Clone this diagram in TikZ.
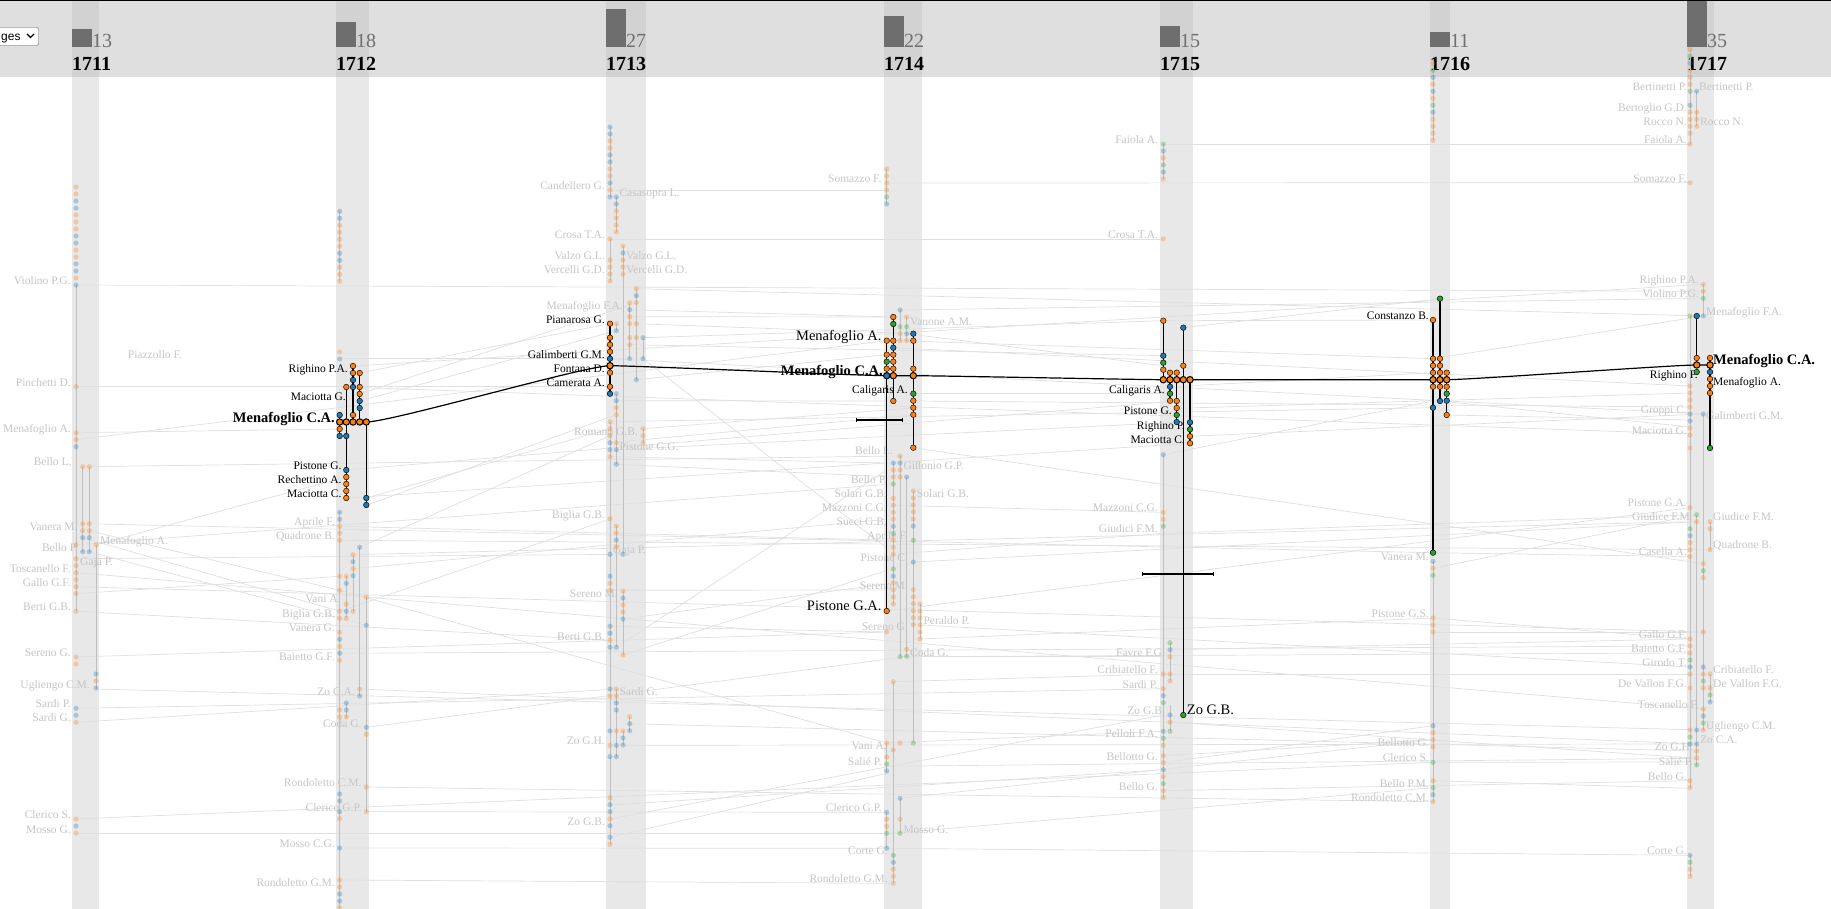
\documentclass[tikz,border=0pt]{standalone}
\usepackage{fontspec}
\setmainfont{Liberation Serif}
\setsansfont{Liberation Sans}
\usepackage{tikz}
\usepackage{xcolor}
\definecolor{dotO}{RGB}{255,127,14}
\definecolor{dotB}{RGB}{31,119,180}
\definecolor{dotG}{RGB}{44,160,44}
\definecolor{hdr}{RGB}{223,223,223}
\definecolor{bandB}{RGB}{232,232,232}
\definecolor{bandH}{RGB}{210,210,210}
\definecolor{barC}{RGB}{110,110,110}
\definecolor{cntC}{RGB}{112,112,112}

\tikzset{
  fdot/.style={fill=dot#1, fill opacity=0.3},
  hdot/.style={fill=dot#1, draw=black, line width=0.45pt},
  mdot/.style={fill=dot#1, draw=black, line width=1pt},
  link/.style={draw=gray!24, line width=0.7pt},
  colline/.style={draw=gray!50, line width=0.9pt},
  hline/.style={draw=black, line width=1.1pt},
  mainline/.style={draw=black, line width=1.2pt},
  errbar/.style={draw=black, line width=2pt},
  flab/.style={text=gray!45, font=\fontsize{11.5}{12}\selectfont, inner sep=0pt},
  hlab/.style={text=black, font=\fontsize{11.5}{12}\selectfont, inner sep=0pt},
  fl/.style={flab, anchor=base east, yshift=-3.8pt},
  fr/.style={flab, anchor=base west, yshift=-3.8pt},
  hl/.style={hlab, anchor=base east, yshift=-3.8pt},
  hr/.style={hlab, anchor=base west, yshift=-3.8pt},
  bigl/.style={hlab, font=\fontsize{14.5}{15}\selectfont, anchor=base east, yshift=-4.8pt},
  bigr/.style={hlab, font=\fontsize{14.5}{15}\selectfont, anchor=base west, yshift=-4.8pt},
  boldl/.style={bigl, font=\bfseries\fontsize{14.5}{15}\selectfont},
  boldr/.style={bigr, font=\bfseries\fontsize{14.5}{15}\selectfont},
  cnt/.style={text=cntC, font=\fontsize{20}{22}\selectfont, inner sep=0pt, anchor=base west},
  yrlab/.style={text=black, font=\bfseries\fontsize{20}{22}\selectfont, inner sep=0pt, anchor=base west},
}

% stacks of dots, 7pt apart
\newcommand{\fdots}[3]{\foreach \c [count=\i from 0] in {#3} {\fill[fdot=\c] (#1,{#2+7*\i}) circle[radius=2.6pt];}}
\newcommand{\hdots}[3]{\foreach \c [count=\i from 0] in {#3} {\filldraw[hdot=\c] (#1,{#2+7*\i}) circle[radius=2.8pt];}}
\newcommand{\mdots}[2]{\foreach \x in {#2} {\filldraw[mdot=#1] (\x,\ypath) circle[radius=3.2pt];}}

\begin{document}
\begin{tikzpicture}[x=1pt, y=-1pt]
  \useasboundingbox (0,0) rectangle (1831,909);
  \fill[white] (0,0) rectangle (1831,909);

  % Year columns and header
  \foreach \xa/\xb in {72/99, 336/369, 606/646, 884/922, 1160/1193, 1430/1450, 1687/1714}
    \fill[bandB] (\xa,77) rectangle (\xb,909);
  \fill[hdr] (0,0) rectangle (1831,77);
  \foreach \xa/\xb in {72/99, 336/369, 606/646, 884/922, 1160/1193, 1430/1450, 1687/1714}
    \fill[bandH] (\xa,0) rectangle (\xb,77);
  \draw[line width=1.5pt] (0,0.75) -- (1831,0.75);

  % Dropdown
  \draw[rounded corners=2pt, draw=gray!70!black, fill=white] (-4,27.5) rectangle (38.5,45.5);
  \node[font=\sffamily\fontsize{12}{13}\selectfont, anchor=base west, inner sep=0pt] (sel) at (1,41) {ges};
  \draw[line width=1.3pt] (27,34) -- (30.5,37.5) -- (34,34);

  % Counts and years
  \foreach \x/\yr/\n in {72/1711/13, 336/1712/18, 606/1713/27, 884/1714/22, 1160/1715/15, 1430/1716/11, 1687/1717/35} {
    \fill[barC] (\x,47.5) rectangle (\x+20,{max(1.5,47.5-1.43*\n)});
    \node[cnt] (c\yr) at (\x+20,47.5) {\n};
    \node[yrlab] (y\yr) at (\x,71) {\yr};
  }

  % Faint links between years
  \foreach \xa/\ya/\xb/\yb in {76/285/1703.3/291.3, 76/386.7/610/386.7, 76/439.7/886.7/340.7,
      76/432.7/339.7/429, 82.7/466.7/900/456, 82.7/523.7/1433/552.7, 76/544.7/893.3/484,
      96/544.7/346.3/477, 76/558.7/623/554.3, 76/572.7/1703.3/709, 76/586.7/1703.3/632,
      76/611.3/610/640.3, 76/657/886.7/632, 96/689/1703.3/730, 76/708.3/1163.3/688.7,
      76/722.3/616.3/689, 76/819/1433/762.3, 76/833.3/900/833.3, 89.3/530.7/339.7/590.3,
      82.7/537.7/339.7/611.3, 89.3/551.7/366.3/625.3, 76/593.7/339.7/576.3,
      353/366/1703.3/284.3, 346.3/387/1690/434, 346.3/470/1176.7/401, 346.3/498/1190/443.3,
      339.7/526.3/893.3/540.3, 339.7/540.3/1710/549.7, 339.7/590.3/886.7/743,
      339.7/611.3/610/519, 339.7/653.3/1690/646, 359.7/689/1696.7/744, 366.3/727.3/906.7/656.7,
      366.3/787/1433/801.7, 366.3/811.7/886.7/812.3, 339.7/848/886.7/848.3, 339.7/880/893.3/883.3,
      339.7/358.7/629.7/358.7, 359.7/373/610/323.7, 359.7/394/636.3/302.7, 359.7/401/616.3/330.7,
      366.3/498/610/428.7, 366.3/505.3/616.3/414.7, 359.7/547.3/610/435.7, 353/554.7/1690/521.7,
      353/568.7/886.7/519.3, 610/190/886.7/190, 886.7/183/1690/182.7, 610/239/1163.3/239,
      1163.3/144/1690/144, 636.3/288.7/1703.3/316, 610/358.7/1703.3/414, 629.7/309.7/893.3/317,
      629.7/316.7/906.7/317, 636.3/323.7/913.3/333.7, 643/337.7/1163.3/320.7,
      629.7/344.7/1163.3/355.7, 636.3/379.7/886.7/354.7, 616.3/400.7/893.3/401,
      610/421.7/1433/407.7, 643/428.7/913.3/408, 610/442.7/913.3/415, 616.3/449.7/1176.7/422.3,
      610/456.7/886.7/463, 616.3/464.3/893.3/477, 610/590.3/893.3/590, 610/745.3/1690/744,
      610/819/1163.3/715, 623/619/893.3/583, 610/626.3/886.7/632, 623/655/913.3/562,
      643/358.7/886.7/548, 616.3/647.3/886.7/470, 610/837.3/886.7/773.3, 629.7/723.7/1696.7/751,
      610/805/1163.3/769.7, 886.7/611/1690/507.7, 893.3/505.3/1163.3/512.3,
      886.7/766.3/1696.7/758.3, 886.7/848.3/1690/855.3, 900/310/1703.3/298.3,
      906.7/333.7/1163.3/365.7, 913.3/393.7/1170/393.7, 893.3/347.7/1690/386,
      900/340.7/1433/358.7, 913.3/401/1690/407, 913.3/447.7/1703.3/563.7,
      893.3/554.3/1163.3/533.3, 920/639/1433/618, 913.3/562/1696.7/521.7,
      900/656.7/1163.3/656.7, 893.3/681.7/1163.3/674, 906.7/656.7/1690/653,
      886.7/743/1163.3/731.3, 900/798.3/1433/739.7, 886.7/833.7/1433/787.7, 920/625/1690/667,
      1163.3/755.7/1433/739.7, 1163.3/790.7/1690/780.7, 1163.3/674/1710/674,
      1163.3/533.3/1696.7/514.7, 1163.3/454.7/1433/401, 1170/386.7/1433/372.7,
      1176.7/408.3/1690/393, 1190/436.3/1703.3/414, 1163.3/320.7/1433/320,
      1183.3/327.7/1440/298.7, 1170/649.7/1690/639, 1170/722/1696.7/758.3,
      1163.3/762.7/1433/725.7, 1433/552.7/1690/556.7, 1433/568.3/1696.7/514.7,
      1433/618/1690/639, 1433/632/1703.3/632, 1433/762.3/1690/762, 1433/780.7/1690/788.3,
      1446.7/415/1690/420, 1440/401/1690/427, 1433/358.7/1703.3/316}
    \draw[link] (\xa,\ya) -- (\xb,\yb);

  % Faint stems inside the columns
  \foreach \x/\ya/\yb in {76/285/611.3, 82.7/466.7/551.7, 89.3/466.7/551.7, 96/544.7/689,
      339.7/211.3/281.3, 339.7/512.3/908, 346.3/576.3/618.3, 346.3/703/718, 353/554.7/611.3,
      359.7/547.3/696, 366.3/597.3/811.7,
      610/127/197, 616.3/197/232, 610/239/281, 623/246/554.3, 629.7/302.7/358.7,
      636.3/288.7/379.7, 643/337.7/358.7, 616.3/323.7/330.7, 616.3/393.7/464.3,
      643/428.7/442.7, 610/421.7/844.3, 616.3/526/647.3, 623/591/655, 616.3/689/757,
      629.7/716.7/731, 623/731/745,
      886.7/169/204, 900/310/340.7, 906.7/317/340.7, 900/456/656.7, 893.3/463/604,
      906.7/477/656.7, 913.3/491/743, 920/604/639, 893.3/681.7/883.3, 886.7/743/773.3,
      900/798.3/833.3, 886.7/812.3/848.3,
      1163.3/144/179, 1163.3/454.7/798.3, 1170/642.7/681.3, 1170/705/731.3,
      1433/63.3/140.3, 1433/561.3/801.7,
      1690/49.3/144, 1696.7/91.3/126.3, 1690/316/788.3, 1703.3/284.3/316, 1703.3/414/730,
      1696.7/514.7/766, 1710/521.7/549.7, 1710/674/702, 1690/855.3/876.3}
    \draw[colline] (\x,\ya) -- (\x,\yb);

  % Faint labels, 1711
  \node[fl] (violino11) at (70.7,280.7) {Violino P.G.};
  \node[fr] (piazzollo11) at (127.7,354.7) {Piazzollo F.};
  \node[fl] (pinchetti11) at (71,382.7) {Pinchetti D.};
  \node[fl] (menafA11) at (71,428.7) {Menafoglio A.};
  \node[fl] (belloL11) at (71.7,461.7) {Bello L.};
  \node[fl] (vaneraM11) at (77.7,526.7) {Vanera M.};
  \node[fl] (belloP11) at (78,547.7) {Bello P.};
  \node[fr] (menafAr11) at (100,541) {Menafoglio A.};
  \node[fr] (gaja11) at (80,561.7) {Gaja P.};
  \node[fl] (toscanello11) at (71,568.7) {Toscanello F.};
  \node[fl] (gallo11) at (71,582.7) {Gallo G.F.};
  \node[fl] (berti11) at (71,606.7) {Berti G.B.};
  \node[fl] (serenoG11) at (71,652.7) {Sereno G.};
  \node[fl] (ugliengo11) at (90,684.7) {Ugliengo C.M.};
  \node[fl] (sardiP11) at (71,703.7) {Sardi P.};
  \node[fl] (sardiG11) at (71,717.7) {Sardi G.};
  \node[fl] (clericoS11) at (71,814.3) {Clerico S.};
  \node[fl] (mossoG11) at (71,829.7) {Mosso G.};

  % Faint labels, 1712
  \node[fl] (aprile12) at (335,521.7) {Aprile F.};
  \node[fl] (quadrone12) at (335,535.7) {Quadrone B.};
  \node[fl] (vani12) at (340.7,599) {Vani A.};
  \node[fl] (biglia12) at (335,613.7) {Biglia G.B.};
  \node[fl] (vaneraG12) at (335,627.3) {Vanera G.};
  \node[fl] (baietto12) at (335,656.3) {Baietto G.F.};
  \node[fl] (zoCA12) at (355,691.3) {Zo C.A.};
  \node[fl] (coda12) at (361.7,723.7) {Coda G.};
  \node[fl] (rondCM12) at (361.7,782.7) {Rondoletto C.M.};
  \node[fl] (clericoGP12) at (361.7,807.7) {Clerico G.P.};
  \node[fl] (mossoCG12) at (335,843.3) {Mosso C.G.};
  \node[fl] (rondGM12) at (335,882.3) {Rondoletto G.M.};

  % Faint labels, 1713
  \node[fl] (candellero13) at (605,185.7) {Candellero G.};
  \node[fr] (casasopra13) at (619.3,193) {Casasopra L.};
  \node[fl] (crosa13) at (605,234.3) {Crosa T.A.};
  \node[fl] (valzo13) at (605,255.3) {Valzo G.L.};
  \node[fr] (valzor13) at (626,255.3) {Valzo G.L.};
  \node[fl] (vercelli13) at (605,269.3) {Vercelli G.D.};
  \node[fr] (vercellir13) at (626,269.3) {Vercelli G.D.};
  \node[fl] (menafFA13) at (623,305.3) {Menafoglio F.A.};
  \node[fl] (romano13) at (638,431.3) {Romano G.B.};
  \node[fr] (pistoneGG13) at (619.3,446.7) {Pistone G.G.};
  \node[fl] (biglia13) at (605,514.3) {Biglia G.B.};
  \node[fr] (gaja13) at (613,549.7) {Gaja P.};
  \node[fl] (serenoM13) at (618,593.7) {Sereno M.};
  \node[fl] (berti13) at (605,636.3) {Berti G.B.};
  \node[fr] (sardiG13) at (619.3,691.3) {Sardi G.};
  \node[fl] (zoGH13) at (605,740.7) {Zo G.H.};
  \node[fl] (zoGB13) at (605,821.3) {Zo G.B.};

  % Faint labels, 1714
  \node[fl] (somazzo14) at (881.7,178.7) {Somazzo F.};
  \node[fr] (vanone14) at (910,321.7) {Vanone A.M.};
  \node[fl] (belloL14) at (893,451) {Bello L.};
  \node[fr] (gillonio14) at (903.3,465.7) {Gillonio G.P.};
  \node[fl] (belloP14) at (887,479.3) {Bello P.};
  \node[fl] (solari14) at (887,493.3) {Solari G.B.};
  \node[fr] (solarir14) at (916.7,493.3) {Solari G.B.};
  \node[fl] (mazzoni14) at (887,507.7) {Mazzoni C.G.};
  \node[fl] (succi14) at (887,521.7) {Succi G.B.};
  \node[fl] (aprile14) at (908,536) {Aprile F.};
  \node[fl] (pistoneC14) at (908,557.7) {Pistone C.};
  \node[fl] (serenoM14) at (908,585.7) {Sereno M.};
  \node[fr] (peraldo14) at (923.3,620.7) {Peraldo P.};
  \node[fl] (serenoG14) at (908,627) {Sereno G.};
  \node[fr] (coda14) at (910,652.3) {Coda G.};
  \node[fl] (vani14) at (887,745.7) {Vani A.};
  \node[fl] (salie14) at (882,761.7) {Salié P.};
  \node[fl] (clericoGP14) at (882,807.7) {Clerico G.P.};
  \node[fr] (mossoG14) at (903.3,829.7) {Mosso G.};
  \node[fl] (corte14) at (888,850.7) {Corte G.};
  \node[fl] (rondGM14) at (888,878.3) {Rondoletto G.M.};

  % Faint labels, 1715
  \node[fl] (faiola15) at (1158.3,139.7) {Faiola A.};
  \node[fl] (crosa15) at (1158.3,234.7) {Crosa T.A.};
  \node[fl] (mazzoni15) at (1158,507.7) {Mazzoni C.G.};
  \node[fl] (giudici15) at (1158,528.7) {Giudici F.M.};
  \node[fl] (favre15) at (1165,652.3) {Favre F.G.};
  \node[fl] (cribiatello15) at (1158,669.7) {Cribiatello F.};
  \node[fl] (sardiP15) at (1158,684.7) {Sardi P.};
  \node[fl] (zoGBf15) at (1165,710.3) {Zo G.B.};
  \node[fl] (pelloli15) at (1158,733.7) {Pelloli F.A.};
  \node[fl] (bellotto15) at (1158,757) {Bellotto G.};
  \node[fl] (belloG15) at (1158,786.3) {Bello G.};

  % Faint labels, 1716
  \node[fl] (vaneraM16) at (1429,556.7) {Vanera M.};
  \node[fl] (pistoneGS16) at (1429,613.7) {Pistone G.S.};
  \node[fl] (bellotto16) at (1429,742.7) {Bellotto G.};
  \node[fl] (clericoS16) at (1429,757.7) {Clerico S.};
  \node[fl] (belloPM16) at (1429,783.3) {Bello P.M.};
  \node[fl] (rondCM16) at (1429,797.7) {Rondoletto C.M.};

  % Faint labels, 1717
  \node[fl] (bertinetti17) at (1687,86.7) {Bertinetti P.};
  \node[fr] (bertinettir17) at (1699,86.7) {Bertinetti P.};
  \node[fl] (bertoglio17) at (1687,107.7) {Bertoglio G.D.};
  \node[fl] (rocco17) at (1687,122) {Rocco N.};
  \node[fr] (roccor17) at (1700,122) {Rocco N.};
  \node[fl] (faiola17) at (1687,139.7) {Faiola A.};
  \node[fl] (somazzo17) at (1687,178.7) {Somazzo F.};
  \node[fl] (righinoPA17) at (1699,280) {Righino P.A.};
  \node[fl] (violino17) at (1699,294) {Violino P.G.};
  \node[fr] (menafFA17) at (1706,312) {Menafoglio F.A.};
  \node[fl] (groppi17) at (1687,410) {Groppi C.};
  \node[fr] (galimberti17) at (1706,415.7) {Galimberti G.M.};
  \node[fl] (maciottaG17) at (1687,431) {Maciotta G.};
  \node[fl] (pistoneGA17) at (1687,502.3) {Pistone G.A.};
  \node[fl] (giudice17) at (1693,516.7) {Giudice F.M.};
  \node[fr] (giudicer17) at (1713,516.7) {Giudice F.M.};
  \node[fr] (quadrone17) at (1713,545) {Quadrone B.};
  \node[fl] (casella17) at (1687,551.7) {Casella A.};
  \node[fl] (gallo17) at (1687,634.7) {Gallo G.F.};
  \node[fl] (baietto17) at (1687,648.7) {Baietto G.F.};
  \node[fl] (girodo17) at (1687,662.7) {Girodo T.};
  \node[fr] (cribiatello17) at (1713,669.7) {Cribiatello F.};
  \node[fl] (devallon17) at (1687,683.7) {De Vallon F.G.};
  \node[fr] (devallonr17) at (1713,683.7) {De Vallon F.G.};
  \node[fl] (toscanello17) at (1699,704.7) {Toscanello F.};
  \node[fr] (ugliengo17) at (1706,725.7) {Ugliengo C.M.};
  \node[fr] (zoCA17) at (1700,740) {Zo C.A.};
  \node[fl] (zoGH17) at (1693,747) {Zo G.H.};
  \node[fl] (salie17) at (1693,761.7) {Salié P.};
  \node[fl] (belloG17) at (1687,776.7) {Bello G.};
  \node[fl] (corte17) at (1687,850.7) {Corte G.};

  % Highlighted labels
  \node[hl] (righinoPA12) at (348,368.7) {Righino P.A.};
  \node[hl] (maciottaG12) at (346,396.7) {Maciotta G.};
  \node[boldl] (menafCA12) at (335,417.3) {Menafoglio C.A.};
  \node[hl] (pistoneG12) at (341.7,465.7) {Pistone G.};
  \node[hl] (rechettino12) at (341.7,479.7) {Rechettino A.};
  \node[hl] (maciottaC12) at (341.7,493.7) {Maciotta C.};
  \node[hl] (pianarosa13) at (605,319.3) {Pianarosa G.};
  \node[hl] (galimberti13) at (605,354.3) {Galimberti G.M.};
  \node[hl] (fontana13) at (605,368.3) {Fontana D.};
  \node[hl] (camerata13) at (605,382.7) {Camerata A.};
  \node[bigl] (menafA14) at (881.7,336) {Menafoglio A.};
  \node[boldl] (menafCA14) at (883,371) {Menafoglio C.A.};
  \node[hl] (caligaris14) at (908,389.7) {Caligaris A.};
  \node[bigl] (pistoneGA14) at (881.7,606) {Pistone G.A.};
  \node[hl] (caligaris15) at (1165,389.7) {Caligaris A.};
  \node[hl] (pistoneG15) at (1172,410.7) {Pistone G.};
  \node[hl] (righinoP15) at (1185,425.3) {Righino P.};
  \node[hl] (maciottaC15) at (1185,439.3) {Maciotta C.};
  \node[bigr] (zoGB15) at (1186.7,710) {Zo G.B.};
  \node[hl] (constanzo16) at (1429,315.7) {Constanzo B.};
  \node[boldr] (menafCA17) at (1713,360) {Menafoglio C.A.};
  \node[hl] (righinoP17) at (1698,374.7) {Righino P.};
  \node[hr] (menafA17) at (1713,381.7) {Menafoglio A.};

  % Faint dots, 1711
  \fdots{76}{187}{O,O,B,B,O,O,O,B,B,O,O,B,B,O,B}
  \fdots{76}{386.7}{O}
  \fdots{76}{432.7}{O,O,B}
  \fdots{82.7}{466.7}{O} \fdots{89.3}{466.7}{O}
  \fdots{82.7}{523.7}{O,O,B} \fdots{89.3}{523.7}{O,O,B}
  \fdots{82.7}{551.7}{B} \fdots{89.3}{551.7}{B}
  \fdots{76}{544.7}{O} \fdots{96}{544.7}{O}
  \fdots{76}{558.7}{O,O,O,O,O,O}
  \fdots{76}{611.3}{O}
  \fdots{76}{657}{O,O}
  \fdots{96}{674}{B,O,B}
  \fdots{76}{708.3}{B,B,O}
  \fdots{76}{819}{O,B,O}

  % Faint dots, 1712
  \fdots{339.7}{211.3}{B,B,O,O,O,O,B,B,O,O,O}
  \fdots{339.7}{352}{O,B}
  \fdots{339.7}{512.3}{B,B,O,O,O}
  \fdots{359.7}{547.3}{B}
  \fdots{353}{554.7}{O,B,O,B}
  \fdots{339.7}{576.3}{O} \fdots{346.3}{576.3}{O,B}
  \fdots{339.7}{590.3}{O}
  \fdots{346.3}{604.3}{O}
  \fdots{339.7}{611.3}{O,O} \fdots{346.3}{611.3}{B,O} \fdots{353}{611.3}{O}
  \fdots{366.3}{597.3}{O}
  \fdots{366.3}{625.3}{B}
  \fdots{339.7}{632.3}{O,B,O,B,O}
  \fdots{359.7}{689}{O,B}
  \fdots{346.3}{703}{B,B,O} \fdots{339.7}{710}{O,O}
  \fdots{366.3}{727.3}{B,O}
  \fdots{366.3}{787}{O}
  \fdots{339.7}{794}{B,B} \fdots{339.7}{811.7}{B,O}
  \fdots{366.3}{811.7}{O}
  \fdots{339.7}{848}{B}
  \fdots{339.7}{880}{O,O,B,B,O}

  % Faint dots, 1713
  \fdots{610}{127}{B,B,O,O,B,B,O,O,B,O,B}
  \fdots{616.3}{197}{B,B,O,O,O,O}
  \fdots{610}{239}{O}
  \fdots{623}{246}{O,B,O,O,O}
  \fdots{610}{260}{O,O,O,O}
  \fdots{636.3}{288.7}{O,B,O}
  \fdots{629.7}{302.7}{O,B,O,O}
  \fdots{636.3}{323.7}{O} \fdots{636.3}{337.7}{O}
  \fdots{629.7}{337.7}{O,O} \fdots{629.7}{358.7}{B}
  \fdots{643}{337.7}{B} \fdots{643}{358.7}{B}
  \fdots{636.3}{379.7}{B}
  \fdots{616.3}{323.7}{O,B}
  \fdots{616.3}{393.7}{B,B,O,O}
  \fdots{610}{421.7}{O,O,O,B,B,O}
  \fdots{616.3}{442.7}{O,B} \fdots{616.3}{464.3}{B}
  \fdots{643}{428.7}{O,O,O}
  \fdots{610}{519}{O}
  \fdots{616.3}{526}{O,O,B,O}
  \fdots{610}{554.3}{B} \fdots{623}{554.3}{B}
  \fdots{610}{576.3}{B,O,O}
  \fdots{623}{591}{O,B,O,O,B}
  \fdots{610}{626.3}{B,B,O,B}
  \fdots{616.3}{647.3}{B}
  \fdots{623}{655}{O}
  \fdots{610}{689}{B,O}
  \fdots{616.3}{689}{O,O,B,B}
  \fdots{629.7}{716.7}{O,B,B}
  \fdots{610}{731}{B} \fdots{616.3}{731}{O} \fdots{623}{731}{O,B,B}
  \fdots{616.3}{745.3}{B}
  \fdots{610}{745.3}{O} \fdots{610}{756.7}{B} \fdots{616.3}{756.7}{B}
  \fdots{610}{797.7}{O,B,B,O,B}
  \fdots{610}{837.3}{B,O}

  % Faint dots, 1714
  \fdots{886.7}{169}{O,O,O,O,G,B}
  \fdots{900}{310}{B}
  \fdots{906.7}{317}{O}
  \fdots{900}{326.7}{G,O,O}
  \fdots{906.7}{326.7}{G,B,O}
  \fdots{900}{456}{O,B,O,O}
  \fdots{893.3}{463}{B,O,O,G}
  \fdots{906.7}{477}{B}
  \fdots{913.3}{491}{O,O,O,O,O,B}
  \fdots{893.3}{498.3}{O,O,O,O,B,G,O,O,O}
  \fdots{893.3}{569}{G,B,O,O,O,O}
  \fdots{913.3}{540.3}{G}
  \fdots{913.3}{562}{B}
  \fdots{913.3}{589.7}{O,O,O,O,O,O}
  \fdots{920}{604}{O,O,O,O,O,O}
  \fdots{886.7}{632}{O}
  \fdots{906.7}{649.3}{O,G} \fdots{900}{656.7}{G}
  \fdots{893.3}{681.7}{O}
  \fdots{886.7}{743}{O} \fdots{900}{743}{O} \fdots{913.3}{743}{G}
  \fdots{893.3}{750}{O}
  \fdots{886.7}{757}{O,G,B}
  \fdots{900}{798.3}{B} \fdots{900}{819.3}{O} \fdots{900}{833.3}{G}
  \fdots{886.7}{812.3}{B,O,O,G}
  \fdots{886.7}{848.3}{B}
  \fdots{893.3}{855.3}{G,B,O,O,O}

  % Faint dots, 1715
  \fdots{1163.3}{144}{G,B,O,G,B,O}
  \fdots{1163.3}{239}{O}
  \fdots{1163.3}{454.7}{B}
  \fdots{1163.3}{512.3}{O,O,G}
  \fdots{1170}{642.7}{G,B,O}
  \fdots{1163.3}{674}{O} \fdots{1170}{674}{O,O}
  \fdots{1163.3}{688.7}{O,B,G}
  \fdots{1170}{715}{B,O} \fdots{1170}{731.3}{G}
  \fdots{1163.3}{731.3}{B,G,O}
  \fdots{1163.3}{755.7}{O,O,B,O,G,O,O}

  % Faint dots, 1716
  \fdots{1433}{63.3}{O,G,B,O,B,O,G,B,O,O,O,O}
  \fdots{1433}{561.3}{B,O,G}
  \fdots{1433}{618}{O,O,O}
  \fdots{1433}{725.7}{B,O,O,O}
  \fdots{1433}{762.3}{G}
  \fdots{1433}{780.7}{O,G,B,O}

  % Faint dots, 1717
  \fdots{1690}{49.3}{O,G,B,O,O,O,G}
  \fdots{1696.7}{91.3}{B}
  \fdots{1690}{105.3}{B,O,O,O,O} \fdots{1696.7}{112.3}{O,O,O}
  \fdots{1690}{144}{O}
  \fdots{1690}{182.7}{O}
  \fdots{1703.3}{284.3}{O,O,G} \fdots{1703.3}{316}{B}
  \fdots{1690}{316}{G}
  \fdots{1690}{386}{O,O,O,O,B,B,O,O}
  \fdots{1703.3}{414}{B}
  \fdots{1690}{448}{O}
  \fdots{1690}{507.7}{O}
  \fdots{1696.7}{514.7}{G,O} \fdots{1710}{521.7}{O,O}
  \fdots{1690}{528.7}{G,B,O,O,O}
  \fdots{1710}{549.7}{O}
  \fdots{1703.3}{563.7}{O,G,O}
  \fdots{1703.3}{632}{O}
  \fdots{1690}{639}{O,O,O,G,B,O} \fdots{1690}{688}{O}
  \fdots{1703.3}{667}{B,O,G,O}
  \fdots{1710}{674}{O} \fdots{1710}{688}{O,G,B}
  \fdots{1703.3}{709}{O,B,G,O}
  \fdots{1690}{730}{O,G} \fdots{1696.7}{730}{B}
  \fdots{1690}{744}{B} \fdots{1696.7}{744}{B,O,O,G}
  \fdots{1690}{780.7}{O,O}
  \fdots{1690}{855.3}{B,G,O,O}

  % Highlighted stems
  \foreach \x/\ya/\yb in {346.3/387/498, 353/366/422, 359.7/373/422, 366.3/422/505.3, 339.7/415/436,
      610/323.7/393.7, 893.3/317/401, 886.7/340.7/611, 913.3/333.7/447.7,
      1163.3/320.7/379.7, 1170/372.7/401, 1176.7/372.7/422.3, 1183.3/327.7/715, 1190/379.7/443.3,
      1433/320/552.7, 1440/298.7/401, 1446.7/372.7/415, 1696.7/316/365, 1710/358/448}
    \draw[hline] (\x,\ya) -- (\x,\yb);

  % Error bars
  \draw[errbar] (856.7,420) -- (902,420);
  \draw[errbar] (1142.3,573.7) -- (1213.7,573.7);
  \foreach \x/\y in {856.7/420, 902/420, 1142.3/573.7, 1213.7/573.7}
    \draw[line width=1pt] (\x,\y-1.8) -- (\x,\y+1.8);

  % Path of Menafoglio C.A.
  \coordinate (m12a) at (339.7,422);
  \coordinate (m12) at (366.3,422);
  \coordinate (m13) at (610,365.7);
  \coordinate (m14a) at (886.7,375.7);
  \coordinate (m14) at (913.3,375.7);
  \coordinate (m15a) at (1163.3,379.7);
  \coordinate (m15) at (1190,379.7);
  \coordinate (m16a) at (1433,379.7);
  \coordinate (m16) at (1446.7,379.7);
  \coordinate (m17a) at (1696.7,365);
  \coordinate (m17) at (1710,365);
  \draw[mainline] (m12a) -- (m12) .. controls +(25,0) and +(-25,0) .. (m13)
    .. controls +(25,0) and +(-25,0) .. (m14a) -- (m14)
    .. controls +(25,0) and +(-25,0) .. (m15a) -- (m15)
    .. controls +(25,0) and +(-25,0) .. (m16a) -- (m16)
    .. controls +(25,0) and +(-25,0) .. (m17a) -- (m17);

  % Highlighted dots, 1712
  \hdots{353}{366}{O,O,B,B} \hdots{353}{415}{O}
  \hdots{359.7}{373}{O} \hdots{359.7}{387}{O,O,B,B}
  \hdots{346.3}{387}{O} \hdots{346.3}{436}{B} \hdots{346.3}{470}{B,O,O,O,O}
  \hdots{339.7}{415}{B} \hdots{339.7}{429}{O,B}
  \hdots{366.3}{498}{B,B}
  \def\ypath{422} \mdots{O}{339.7,346.3,353,359.7,366.3}

  % Highlighted dots, 1713
  \hdots{610}{323.7}{O} \hdots{610}{337.7}{O,O,O,B} \hdots{610}{372.7}{O} \hdots{610}{386.7}{O,B}
  \def\ypath{365.7} \mdots{O}{610}

  % Highlighted dots, 1714
  \hdots{893.3}{317}{O,G} \hdots{893.3}{340.7}{O,B,O,O,O} \hdots{893.3}{401}{O}
  \hdots{886.7}{340.7}{O} \hdots{886.7}{354.7}{O,G,O} \hdots{886.7}{611}{O}
  \hdots{913.3}{333.7}{B,O} \hdots{913.3}{368.7}{O} \hdots{913.3}{393.7}{G,O,O,O} \hdots{913.3}{447.7}{O}
  \def\ypath{375.7} \mdots{B}{886.7} \mdots{O}{893.3,913.3}

  % Highlighted dots, 1715
  \hdots{1163.3}{320.7}{O} \hdots{1163.3}{355.7}{B,G,O}
  \hdots{1170}{372.7}{O} \hdots{1170}{386.7}{B,G,O}
  \hdots{1176.7}{372.7}{O} \hdots{1176.7}{401}{O,O,G,B}
  \hdots{1183.3}{327.7}{B} \hdots{1183.3}{365.7}{O} \hdots{1183.3}{715}{G}
  \hdots{1190}{422.3}{B,G,O,O}
  \def\ypath{379.7} \mdots{O}{1163.3,1170,1176.7,1183.3,1190}

  % Highlighted dots, 1716
  \hdots{1440}{298.7}{G} \hdots{1433}{320}{O}
  \hdots{1433}{358.7}{O,O,O} \hdots{1433}{386.7}{O} \hdots{1433}{407.7}{B} \hdots{1433}{552.7}{G}
  \hdots{1440}{358.7}{O,O,O} \hdots{1440}{386.7}{O} \hdots{1440}{401}{B}
  \hdots{1446.7}{372.7}{O} \hdots{1446.7}{386.7}{O,G,B} \hdots{1446.7}{415}{O}
  \def\ypath{379.7} \mdots{O}{1433,1440,1446.7}

  % Highlighted dots, 1717
  \hdots{1696.7}{316}{B} \hdots{1696.7}{358}{O} \hdots{1696.7}{372}{G}
  \hdots{1710}{358}{O} \hdots{1710}{372}{B,O,O,O} \hdots{1710}{448}{G}
  \def\ypath{365} \mdots{O}{1696.7,1710}
\end{tikzpicture}
\end{document}
